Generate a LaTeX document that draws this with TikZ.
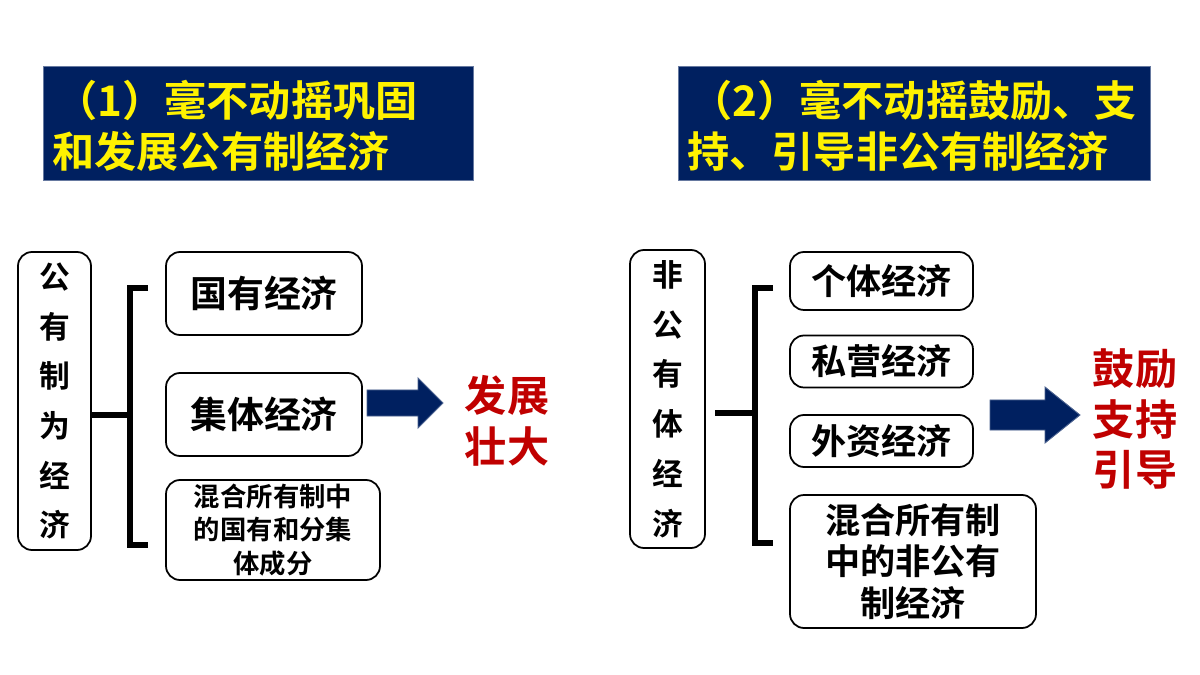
\documentclass[tikz,border=0pt]{standalone}
\usepackage{fontspec}
\setmainfont{Noto Sans CJK SC}[BoldFont={Noto Sans CJK SC Bold}]
\definecolor{navy}{HTML}{002060}
\definecolor{dred}{HTML}{C00000}
\begin{document}
\begin{tikzpicture}[x=0.02cm,y=-0.02cm,
  rbox/.style={draw=black,line width=1pt,rounded corners=8pt,font=\bfseries,align=center,inner sep=0pt},
  tbox/.style={fill=navy,draw=navy!60,inner sep=0pt},
  brk/.style={line width=3pt},
  barrow/.style={fill=navy,draw=navy!70,line width=0.5pt},
  ttxt/.style={text=yellow,font=\fontsize{24}{30}\selectfont\bfseries,anchor=west,align=left,inner sep=0pt},
  rtxt/.style={text=dred,font=\fontsize{24}{29}\selectfont\bfseries,align=center,inner sep=0pt}]
\useasboundingbox[fill=white] (0,0) rectangle (1200,675);
% titles
\node[tbox,minimum width=430*0.02cm,minimum height=114*0.02cm,anchor=north west] (t1) at (43,66) {};
\node[ttxt] (t1a) at (55,100) {（1）毫不动摇巩固};
\node[ttxt] (t1b) at (52,151) {和发展公有制经济};
\node[tbox,minimum width=472*0.02cm,minimum height=114*0.02cm,anchor=north west] (t2) at (678,66) {};
\node[ttxt] (t2a) at (690,100) {（2）毫不动摇鼓励、支};
\node[ttxt] (t2b) at (687,151) {持、引导非公有制经济};
% left
\node[rbox,minimum width=73*0.02cm,minimum height=298*0.02cm,font=\fontsize{17.5}{28.3}\selectfont\bfseries] (L) at (54.5,401) {公\\有\\制\\为\\经\\济};
\node[rbox,minimum width=196*0.02cm,minimum height=83*0.02cm,font=\fontsize{21}{25}\selectfont\bfseries] (a1) at (264,293.5) {国有经济};
\node[rbox,minimum width=196*0.02cm,minimum height=83*0.02cm,font=\fontsize{21}{25}\selectfont\bfseries] (a2) at (264,414.5) {集体经济};
\node[rbox,minimum width=214*0.02cm,minimum height=100*0.02cm,font=\fontsize{15}{19}\selectfont\bfseries] (a3) at (273,530) {混合所有制中\\的国有和分集\\体成分};
\coordinate (lb) at (130,415);
\draw[brk] (L.east |- lb) -- (lb);
\draw[brk] (148,288) -- (130,288) -- (130,545) -- (148,545);
\draw[barrow] (367,390) -- (418,390) -- (418,378) -- (443,403) -- (418,428) -- (418,416) -- (367,416) -- cycle;
\node[rtxt] (r1) at (507,421) {发展\\壮大};
% right
\node[rbox,minimum width=75*0.02cm,minimum height=298*0.02cm,font=\fontsize{17.5}{28.3}\selectfont\bfseries] (R) at (667.5,399) {非\\公\\有\\体\\经\\济};
\node[rbox,minimum width=183*0.02cm,minimum height=58*0.02cm,font=\fontsize{20}{24}\selectfont\bfseries] (b1) at (881.5,281) {个体经济};
\node[rbox,minimum width=183*0.02cm,minimum height=52*0.02cm,font=\fontsize{20}{24}\selectfont\bfseries] (b2) at (881.5,361.5) {私营经济};
\node[rbox,minimum width=183*0.02cm,minimum height=52*0.02cm,font=\fontsize{20}{24}\selectfont\bfseries] (b3) at (881.5,441) {外资经济};
\node[rbox,minimum width=246*0.02cm,minimum height=133*0.02cm,font=\fontsize{20}{23.5}\selectfont\bfseries] (b4) at (913,561.5) {混合所有制\\中的非公有\\制经济};
\coordinate (rb) at (755,413);
\draw[brk] (715,413) -- (rb);
\draw[brk] (773,288) -- (755,288) -- (755,543) -- (773,543);
\draw[barrow] (990,400) -- (1045,400) -- (1045,387) -- (1080,415) -- (1045,443) -- (1045,430) -- (990,430) -- cycle;
\node[rtxt] (r2) at (1135,419) {鼓励\\支持\\引导};
\end{tikzpicture}
\end{document}
